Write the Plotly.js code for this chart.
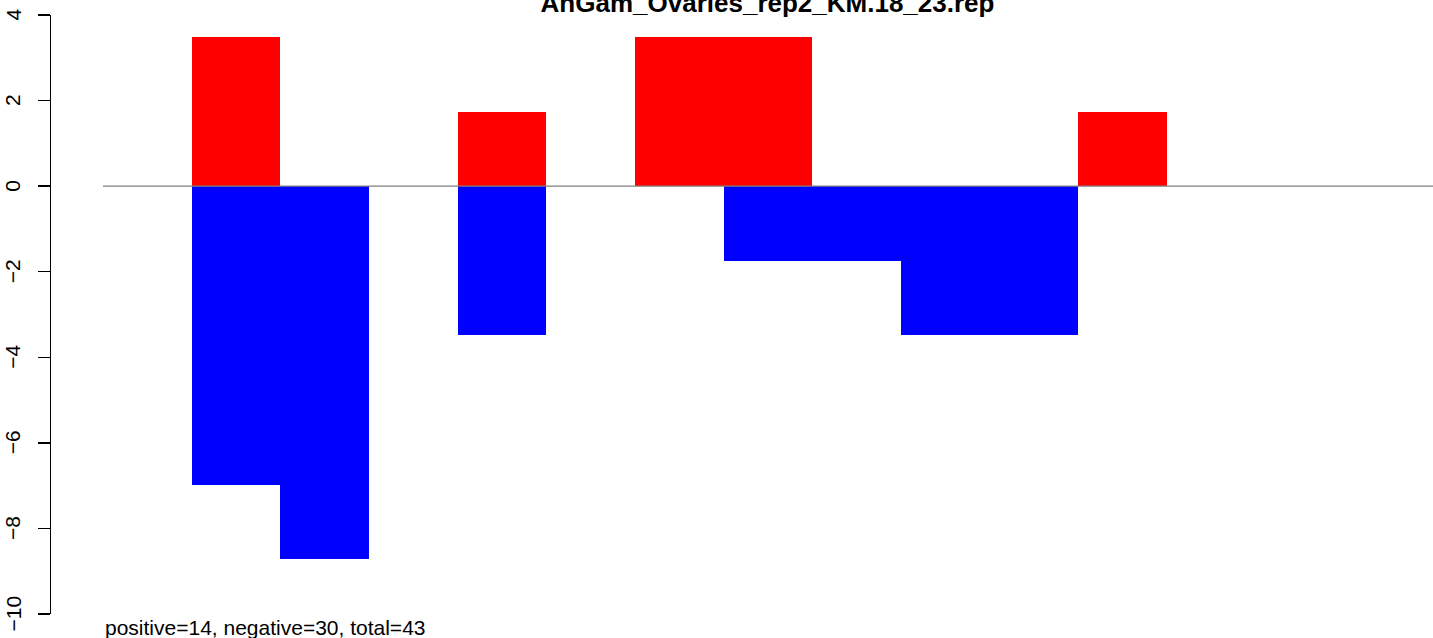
<!DOCTYPE html>
<html><head><meta charset="utf-8">
<script src="https://cdn.plot.ly/plotly-3.0.1.min.js"></script>
<style>html,body{margin:0;padding:0;background:#fff}#chart{width:1433px;height:638px}</style>
</head><body><div id="chart"></div>
<script>
// bar positions (bar index, 15 bars, no spacing)
const categories = [0,1,2,3,4,5,6,7,8,9,10,11,12,13,14];
const positiveValues = [0, 3.48, 0, 0, 1.74, 0, 3.48, 3.48, 0, 0, 0, 1.74, 0, 0, 0];
const negativeValues = [0, -6.98, -8.72, 0, -3.49, 0, 0, -1.745, -1.745, -3.49, -3.49, 0, 0, 0, 0];
const yTicks = [-10, -8, -6, -4, -2, 0, 2, 4];
const yTickLabels = ["\u221210", "\u22128", "\u22126", "\u22124", "\u22122", "0", "2", "4"];
const titleText = "AnGam_Ovaries_rep2_KM.18_23.rep";
const footText = "positive=14, negative=30, total=43";

const xc = categories.map(c => c + 0.5);
const FONT = "Liberation Sans, Arial, Helvetica, sans-serif";

const traces = [
  {type:'bar', x:xc, y:positiveValues, width:1, marker:{color:'#ff0000', line:{width:0}}, hoverinfo:'skip', showlegend:false},
  {type:'bar', x:xc, y:negativeValues, width:1, marker:{color:'#0000ff', line:{width:0}}, hoverinfo:'skip', showlegend:false}
];

const W = 1433, H = 638, mTop = 15, mBot = 24;
const tickAnn = yTicks.map((v, i) => ({
  text: yTickLabels[i], xref:'paper', yref:'y', x:12.5/W, y:v,
  xanchor:'center', yanchor:'middle', textangle:-90, showarrow:false,
  font:{family:FONT, size:21, color:'#000'}
}));

const layout = {
  width: W, height: H,
  margin: {l:0, r:0, t:mTop, b:mBot, pad:0},
  paper_bgcolor:'#fff', plot_bgcolor:'#fff',
  barmode:'relative', bargap:0,
  showlegend:false,
  font:{family:FONT, color:'#000'},
  title:{text:titleText, font:{family:FONT, size:26, weight:'bold', color:'#000'},
         x:767.5/W, xanchor:'center', xref:'paper', y:1-3/H, yanchor:'middle', yref:'container'},
  xaxis:{range:[-103/88.667, 15.0], visible:false, fixedrange:true},
  yaxis:{range:[-10,4], tickvals:yTicks, showticklabels:false,
         anchor:'free', position:50/W, side:'left',
         showline:true, linecolor:'#000', linewidth:1.3,
         ticks:'outside', ticklen:12, tickwidth:1.3, tickcolor:'#000',
         showgrid:false, zeroline:false, fixedrange:true},
  shapes:[{type:'line', xref:'x', yref:'y', x0:0, x1:15, y0:0, y1:0,
           line:{color:'#808080', width:1.3}, layer:'above'}],
  annotations:[{text:footText, xref:'paper', yref:'paper', x:103/W, xanchor:'left',
                y:(H-mBot-627)/(H-mTop-mBot), yanchor:'middle', showarrow:false,
                font:{family:FONT, size:21, color:'#000'}}].concat(tickAnn)
};

Plotly.newPlot('chart', traces, layout, {displayModeBar:false, staticPlot:true});
</script></body></html>
